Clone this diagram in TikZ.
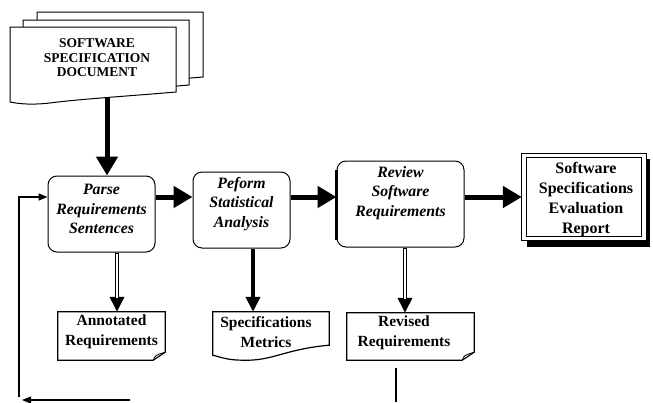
\documentclass[tikz,border=0pt]{standalone}
\usepackage{fontspec}
\setmainfont{Liberation Serif}
\usetikzlibrary{arrows.meta,calc}

\begin{document}
\begin{tikzpicture}[x=1pt,y=-1pt,
  procbox/.style={draw, rounded corners=9pt, line width=1pt, fill=white, inner sep=0pt},
  proctext/.style={font=\fontsize{15.8}{19.5}\selectfont\bfseries\itshape, align=center, inner sep=0pt},
  outtext/.style={font=\fontsize{15.5}{19.5}\selectfont\bfseries, align=center, inner sep=0pt},
  doctext/.style={font=\fontsize{13.5}{14.5}\selectfont\bfseries, align=center, inner sep=0pt},
  outbox/.style={inner sep=0pt},
  bigflow/.style={line width=5pt, -{Triangle[length=19pt,width=21pt]}},
  midflow/.style={line width=3.5pt, -{Triangle[length=15pt,width=14pt]}},
  hollowcore/.style={white, line width=1.5pt, shorten >=14pt, shorten <=1.5pt},
  fbline/.style={line width=1.5pt},
  fbtip/.style={-{Triangle[length=9pt,width=7pt]}}
]
\useasboundingbox (0,0) rectangle (653,402);

% stacked document pages, back to front
\foreach \dx/\dy in {27/-15, 13/-7, 0/0}{
  \filldraw[fill=white, line width=1pt, shift={(\dx,\dy)}]
    (10,27) -- (176,27) -- (176,92)
    .. controls (130,96) and (80,99) .. (50,103)
    .. controls (32,105) and (20,104) .. (10,102) -- cycle;
}
\node[doctext] (doc) at (97,58) {SOFTWARE\\SPECIFICATION\\DOCUMENT};
\coordinate (docfoot) at (107,97);

% process boxes
\node[procbox, minimum width=107pt, minimum height=76pt] (parse) at (101.5,214) {};
\node[procbox, minimum width=97pt, minimum height=76pt] (peform) at (241.5,210) {};
\node[procbox, minimum width=127pt, minimum height=86pt] (review) at (400.5,204) {};
\draw[line width=3pt] ([yshift=34pt]review.west) -- ([yshift=-36pt]review.west);

\node[proctext] (parsetext) at (101.5,209) {Parse\\Requirements\\Sentences};
\node[proctext] (peformtext) at (241.5,204) {Peform\\Statistical\\Analysis};
\node[proctext] (reviewtext) at (400.5,193) {Review\\Software\\Requirements};

% evaluation report with double frame and drop shadow
\node[outbox, minimum width=124pt, minimum height=86pt] (report) at (584,197) {};
\fill ([shift={(5,0)}]report.south west) rectangle ([shift={(4,7)}]report.south east);
\fill ([shift={(0,5)}]report.north east) rectangle ([shift={(4,7)}]report.south east);
\draw[line width=1.3pt, fill=white] (report.north west) rectangle (report.south east);
\draw[line width=1pt] ([shift={(5,4)}]report.north west) rectangle ([shift={(-5,-4)}]report.south east);
\node[outtext, font=\fontsize{16}{20}\selectfont\bfseries] (reporttext) at (586,200)
  {Software\\Specifications\\Evaluation\\Report};

% output documents
\node[outbox, minimum width=107pt, minimum height=48pt] (annot) at (111.5,336) {};
\draw[line width=1.2pt] (annot.north west) -- (annot.north east) -- ([yshift=8pt]annot.south east)
  -- ([xshift=-12pt]annot.south east) -- (annot.south west) -- cycle;
\draw[line width=0.8pt] ([xshift=-12pt]annot.south east) .. controls +(2,-5) .. ([yshift=8pt]annot.south east);
\node[outtext] (annottext) at (111.5,332) {Annotated\\Requirements};

\node[outbox, minimum width=116pt, minimum height=48pt] (metrics) at (271,336) {};
\draw[line width=1.2pt] (metrics.north west) -- (metrics.north east) -- ([yshift=15pt]metrics.south east)
  .. controls +(-45,4) and +(30,1) .. ([xshift=30pt]metrics.south west)
  .. controls +(-15,0) and +(8,2) .. ([yshift=5pt]metrics.south west) -- cycle;
\node[outtext] (metricstext) at (266,332) {Specifications\\Metrics};

\node[outbox, minimum width=127pt, minimum height=47pt] (revised) at (410.5,336.5) {};
\draw[line width=1.2pt] (revised.north west) -- (revised.north east) -- ([yshift=8pt]revised.south east)
  -- ([xshift=-12pt]revised.south east) -- (revised.south west) -- cycle;
\draw[line width=0.8pt] ([xshift=-12pt]revised.south east) .. controls +(2,-5) .. ([yshift=8pt]revised.south east);
\node[outtext] (revisedtext) at (404,333) {Revised\\Requirements};

% main flow
\draw[bigflow] (docfoot) -- ([xshift=5.5pt]parse.north);
\draw[bigflow] ([yshift=17pt]parse.east) -- ([yshift=13pt]peform.west);
\draw[bigflow] ([yshift=13pt]peform.east) -- ([yshift=7pt]review.west);
\draw[bigflow] ([yshift=7pt]review.east) -- (report.west);

% outputs
\draw[midflow] ([xshift=15.5pt]parse.south) -- ([xshift=15.5pt]parse.south |- annot.north);
\draw[hollowcore] ([xshift=15.5pt]parse.south) -- ([xshift=15.5pt]parse.south |- annot.north);
\draw[midflow, line width=4pt] ([xshift=11.5pt]peform.south) -- ([xshift=11.5pt]peform.south |- metrics.north);
\draw[midflow] ([xshift=4.5pt]review.south) -- ([xshift=4.5pt]review.south |- revised.north);
\draw[hollowcore] ([xshift=4.5pt]review.south) -- ([xshift=4.5pt]review.south |- revised.north);

% feedback loop
\coordinate (fbtop) at (396,368);
\coordinate (fbbottom) at (396,402);
\draw[fbline] (fbtop) -- (fbbottom);
\coordinate (fbcorner) at (19,397);
\draw[fbline, fbtip] (fbcorner) |- ([yshift=17pt]parse.west);
\coordinate (fbstart) at (130,400);
\coordinate (fbend) at (22,400);
\draw[line width=1.2pt, fbtip] (fbstart) -- (fbend);
\end{tikzpicture}
\end{document}
